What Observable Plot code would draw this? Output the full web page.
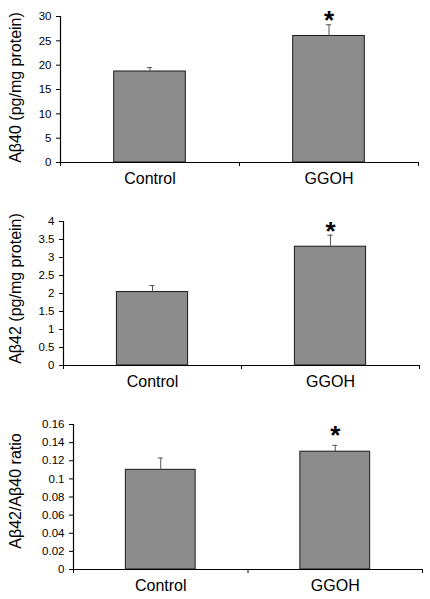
<!DOCTYPE html>
<html>
<head>
<meta charset="utf-8">
<script src="https://cdn.jsdelivr.net/npm/d3@7"></script>
<script src="https://cdn.jsdelivr.net/npm/@observablehq/plot@0.6"></script>
<style>
  body { margin: 0; background: #fff; }
  #charts svg { display: block; }
</style>
</head>
<body>
<div id="charts"></div>
<script>
const categories = ["Control", "GGOH"];

const ab40Values = [18.7, 26.0];
const ab40Errors = [0.8, 2.3];
const ab40Ticks = [0, 5, 10, 15, 20, 25, 30];

const ab42Values = [2.04, 3.30];
const ab42Errors = [0.18, 0.32];
const ab42Ticks = [0, 0.5, 1, 1.5, 2, 2.5, 3, 3.5, 4];

const ratioValues = [0.110, 0.130];
const ratioErrors = [0.013, 0.007];
const ratioTicks = [0, 0.02, 0.04, 0.06, 0.08, 0.1, 0.12, 0.14, 0.16];

const significant = [false, true];

const panels = [
  {label: "Aβ40 (pg/mg protein)", values: ab40Values, errors: ab40Errors, ticks: ab40Ticks,
   height: 200, marginLeft: 60, marginRight: 12, marginTop: 16, marginBottom: 38, starDy: -4, labelDy: -2},
  {label: "Aβ42 (pg/mg protein)", values: ab42Values, errors: ab42Errors, ticks: ab42Ticks,
   height: 200, marginLeft: 63, marginRight: 11, marginTop: 21, marginBottom: 35, starDy: -4, labelDy: -5},
  {label: "Aβ42/Aβ40 ratio", values: ratioValues, errors: ratioErrors, ticks: ratioTicks,
   height: 199, marginLeft: 73, marginRight: 8, marginTop: 24, marginBottom: 30, starDy: -10, labelDy: -6}
];

const font = "Arial, 'Liberation Sans', sans-serif";
const fmt = d => String(+d.toFixed(2));

for (const p of panels) {
  const data = categories.map((c, i) => ({
    cat: c, i, value: p.values[i], err: p.errors[i], top: p.values[i] + p.errors[i], sig: significant[i]
  }));
  const yMax = p.ticks[p.ticks.length - 1];
  const chart = Plot.plot({
    width: 430,
    height: p.height,
    marginLeft: p.marginLeft,
    marginRight: p.marginRight,
    marginTop: p.marginTop,
    marginBottom: p.marginBottom,
    style: {fontFamily: font, background: "#fff", color: "#000"},
    x: {domain: [0, categories.length], axis: null},
    y: {domain: [0, yMax], axis: null},
    marks: [
      Plot.rectY(data, {x1: d => d.i + 0.3, x2: d => d.i + 0.7, y1: 0, y2: "value",
        fill: "#8c8c8c", stroke: "#1a1a1a", strokeWidth: 1}),
      Plot.ruleX(data, {x: d => d.i + 0.5, y1: "value", y2: "top", stroke: "#555", strokeWidth: 1}),
      Plot.ruleY(data, {y: "top", x1: d => d.i + 0.485, x2: d => d.i + 0.515, stroke: "#555", strokeWidth: 1}),
      Plot.text(data.filter(d => d.sig), {x: d => d.i + 0.5, y: "top", text: () => "*",
        fontSize: 26, fontWeight: "bold", fill: "#000", dy: p.starDy}),
      Plot.ruleX([0], {y1: 0, y2: yMax, stroke: "#000", strokeWidth: 1.2}),
      Plot.ruleY([0], {stroke: "#000", strokeWidth: 1.2}),
      Plot.axisY({ticks: p.ticks, tickSize: 4, tickPadding: 5, tickFormat: fmt, fontSize: 11.5,
        label: null, stroke: "#000"}),
      Plot.axisX({ticks: d3.range(categories.length + 1), tickSize: 4, tickFormat: () => "", label: null, stroke: "#000"}),
      Plot.axisX({ticks: categories.map((c, i) => i + 0.5), tickSize: 0, tickPadding: 10,
        tickFormat: v => categories[Math.floor(v)], fontSize: 16, label: null}),
      Plot.text([p.label], {frameAnchor: "left", textAnchor: "middle", lineAnchor: "middle",
        text: d => d, rotate: -90, dx: 15 - p.marginLeft, dy: p.labelDy,
        fontSize: 16, fill: "#000"})
    ]
  });
  document.getElementById("charts").appendChild(chart);
}
</script>
</body>
</html>
